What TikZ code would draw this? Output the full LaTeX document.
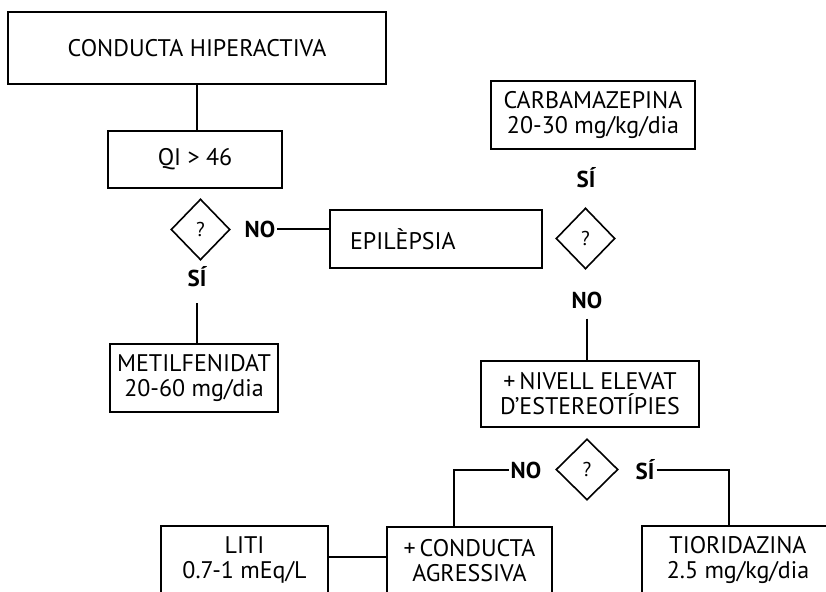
\documentclass[tikz,border=0pt]{standalone}
\usepackage{fontspec}
\setmainfont{PT Sans}
\usetikzlibrary{shapes.geometric}

\begin{document}
\begin{tikzpicture}[x=1pt,y=-1pt,
    box/.style={draw=black, line width=1.6pt, align=center, inner sep=0pt,
      font=\fontsize{24}{25}\selectfont},
    ask/.style={draw=black, line width=1.6pt, diamond, inner sep=0pt,
      minimum width=59pt, minimum height=61pt, font=\fontsize{20}{22}\selectfont},
    answer/.style={inner sep=2pt, font=\bfseries\fontsize{23}{25}\selectfont},
    link/.style={draw=black, line width=1.6pt}]
  \useasboundingbox (0,0) rectangle (826,591);
  \clip (0,0) rectangle (826,591);
  % left branch
  \node[box, minimum width=378pt, minimum height=72pt] (hiper) at (197,48) {CONDUCTA HIPERACTIVA};
  \node[box, minimum width=174pt, minimum height=57pt] (qi) at (195,159.5) {QI > 46};
  \node[ask] (ask1) at (200.5,229.5) {?};
  \node[answer] (no1) at (260,229) {NO};
  \node[answer] (si1) at (197,277) {SÍ};
  \node[box, minimum width=168pt, minimum height=68pt] (metil) at (194,378) {METILFENIDAT\\20-60 mg/dia};
  \node[box, minimum height=58pt, text width=172pt, align=left, inner xsep=20pt] (epi) at (436,239) {EPILÈPSIA};
  % right branch
  \node[box, minimum width=204pt, minimum height=68pt] (carba) at (593,115) {CARBAMAZEPINA\\20-30 mg/kg/dia};
  \node[answer] (si2) at (586,178) {SÍ};
  \node[ask] (ask2) at (585.5,238.5) {?};
  \node[answer] (no2) at (587,300) {NO};
  \node[box, minimum width=218pt, minimum height=66pt] (nivell) at (590,394) {+\,NIVELL ELEVAT\\D’ESTEREOTÍPIES};
  \node[ask, minimum width=62pt] (ask3) at (587,469.5) {?};
  \node[answer] (no3) at (526,470) {NO};
  \node[answer] (si3) at (645,470) {SÍ};
  \node[box, minimum width=165pt, minimum height=68pt] (agres) at (469.5,561) {+\,CONDUCTA\\AGRESSIVA};
  \node[box, minimum width=167pt, minimum height=68pt] (liti) at (244.5,560) {LITI\\0.7-1 mEq/L};
  \node[box, minimum width=192pt, minimum height=68pt] (tiori) at (738,560) {TIORIDAZINA\\2.5 mg/kg/dia};
  % connectors
  \draw[link] (hiper.south) -- (hiper.south |- qi.north);
  \draw[link] (no1.east) -- (no1.east -| epi.west);
  \draw[link, shorten <=14pt] (si1.south) -- (si1.south |- metil.north);
  \draw[link, shorten <=8pt] (no2.south) -- (no2.south |- nivell.north);
  \draw[link] (no3.west) -| ([xshift=-15.5pt]agres.north);
  \draw[link] (si3.east) -| ([xshift=-9pt]tiori.north);
  \draw[link] ([yshift=3pt]liti.east) -- ([yshift=3pt]liti.east -| agres.west);
\end{tikzpicture}
\end{document}
